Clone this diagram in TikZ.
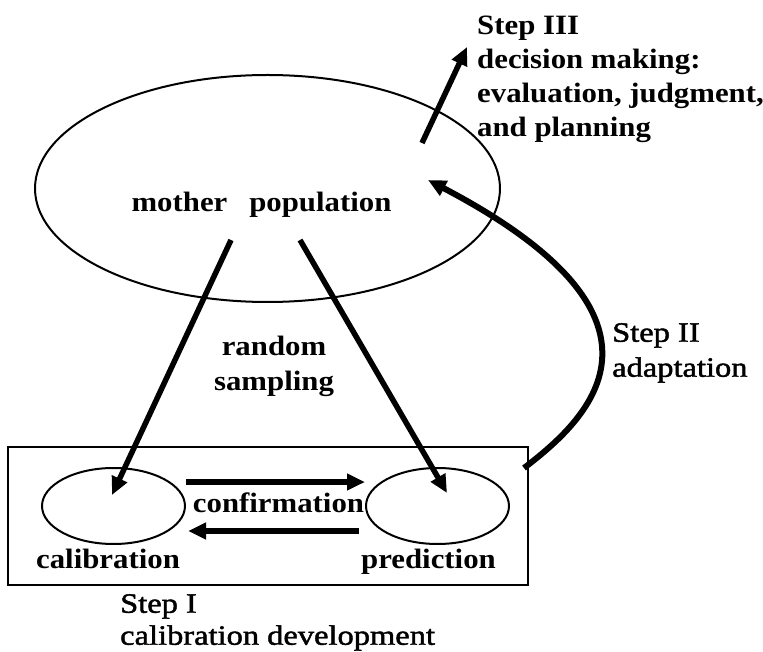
\documentclass[tikz,border=0pt]{standalone}
\usepackage{fontspec}
\setmainfont{Liberation Serif}[FakeStretch=1.1]
\newfontfamily\regfont{Liberation Serif}[FakeStretch=1.16, FakeBold=1.6]
\usetikzlibrary{shapes.geometric,arrows.meta}

\tikzset{
  lbl/.style={font=\bfseries\fontsize{28}{34}\selectfont, inner sep=0pt},
  reglbl/.style={font=\regfont\fontsize{28}{34}\selectfont, inner sep=0pt},
  oval/.style={draw, ellipse, line width=2pt, inner sep=0pt},
  frame/.style={draw, rectangle, line width=2pt, inner sep=0pt},
  bigarrow/.style={line width=5.5pt, -{Triangle[length=18pt,width=16pt]}},
}

\begin{document}
\begin{tikzpicture}[x=1pt,y=-1pt]
  \fill[white] (0,0) rectangle (763,652);
  \useasboundingbox (0,0) rectangle (763,652);

  % population and the calibration box
  \node[oval, minimum width=465pt, minimum height=227pt] (pop) at (267.5,188.5) {};
  \node[lbl, anchor=base] (poplbl) at (261.5,212) {mother\hspace{22pt}population};

  \node[frame, minimum width=520pt, minimum height=138pt] (box) at (268,516) {};
  \node[oval, minimum width=143pt, minimum height=76pt] (cal) at (113.5,506) {};
  \node[oval, minimum width=143pt, minimum height=76pt] (pred) at (437.5,506) {};

  % labels
  \node[lbl, anchor=base] (callbl) at (108,568) {calibration};
  \node[lbl, anchor=base] (predlbl) at (428.5,568) {prediction};
  \node[lbl, anchor=base] (conf) at (278.5,512) {confirmation};
  \node[lbl, anchor=north, align=center, font=\bfseries\fontsize{28}{35}\selectfont]
    (rs) at (274,336) {random\\sampling};
  \node[reglbl, anchor=north west, align=left, font=\regfont\fontsize{28}{32}\selectfont]
    (s1) at (120,594) {Step I\\calibration development};
  \node[reglbl, anchor=north west, align=left, font=\regfont\fontsize{28}{35}\selectfont]
    (s2) at (612,323) {Step II\\adaptation};
  \node[lbl, anchor=north west, align=left, font=\bfseries\fontsize{28}{34}\selectfont]
    (s3) at (477,16) {Step III\\decision making:\\evaluation, judgment,\\and planning};

  % random sampling
  \draw[bigarrow] ([xshift=-36.5pt,yshift=-51.5pt]pop.center) -- ([xshift=-1.5pt,yshift=11pt]cal.center);
  \draw[bigarrow] ([xshift=32.5pt,yshift=-51.5pt]pop.center) -- ([xshift=9.5pt,yshift=13pt]pred.center);

  % confirmation
  \draw[bigarrow] ([yshift=24pt]cal.east) -- ([yshift=24pt]pred.west);
  \draw[bigarrow] ([xshift=-6pt,yshift=-25pt]pred.west) -- ([xshift=2pt,yshift=-25pt]cal.east);

  % Step II: adaptation back to the population
  \draw[bigarrow, line width=6pt] ([xshift=-5pt,yshift=48pt]box.east)
    .. controls (584,422) and (699,322) .. ([xshift=160.5pt,yshift=8.5pt]pop.center);

  % Step III: decision making
  \draw[bigarrow] ([xshift=154.5pt,yshift=45.5pt]pop.center) -- ([xshift=-10pt,yshift=-31pt]s3.north west);
\end{tikzpicture}
\end{document}
